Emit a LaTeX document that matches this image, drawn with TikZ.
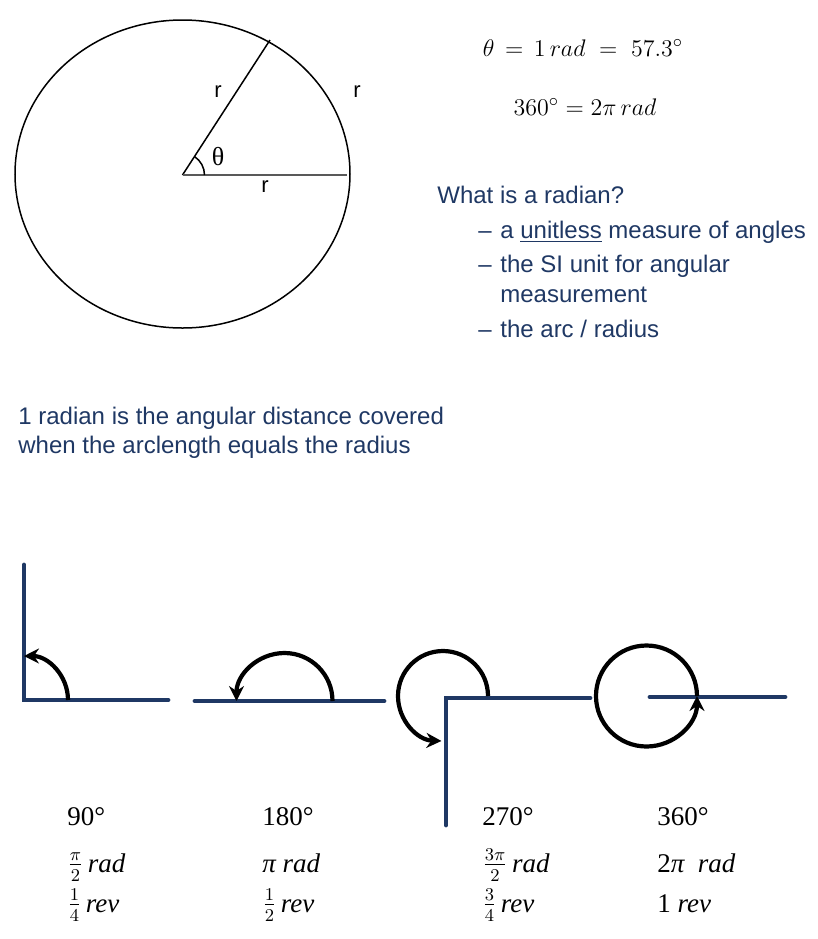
\documentclass[tikz,border=0pt]{standalone}
\usepackage{amsmath}
\usepackage{fontspec}
\setmainfont{Liberation Sans}
\newfontfamily\timesfont{Liberation Serif}
\newfontfamily\timesit{Liberation Serif Italic}
\usepackage{tikz}
\usetikzlibrary{arrows.meta,positioning}
\definecolor{navyline}{RGB}{31,56,100}
\definecolor{navytext}{RGB}{31,56,100}
\newcommand{\ital}[1]{{\timesit #1}}

\begin{document}
\begin{tikzpicture}[x=0.5pt, y=0.5pt,
    rimline/.style={line width=0.75pt},
    armline/.style={navyline, line width=2.4pt, line cap=round},
    turnarc/.style={line width=2.1pt, -{Stealth[length=7.5pt, width=7.5pt, inset=2.5pt]}},
    rlabel/.style={font=\fontsize{11}{13}\selectfont, inner sep=0},
    eqtext/.style={font=\fontsize{12.6}{15}\selectfont, inner sep=0},
    bodytext/.style={font=\fontsize{12}{14}\selectfont, text=navytext, anchor=base west, inner sep=0},
    amount/.style={font=\timesfont\fontsize{13.5}{16}\selectfont, anchor=base west, inner sep=0},
]
    \useasboundingbox (0,0) rectangle (818,-939);

    % circle with one radian marked
    \coordinate (ctr) at (182.5,-175);
    \draw[rimline] (182.5,-174) ellipse [x radius=167.5, y radius=154];
    \coordinate (rimtop) at (270,-40);
    \coordinate (rimright) at (347,-175);
    \draw[rimline] (ctr) -- (rimtop);
    \draw[gray!70!black, line width=1pt] (ctr) -- (rimright);
    \draw[rimline] ([shift={(0:22)}]ctr) arc[start angle=0, end angle=57, radius=22];
    \node[rlabel, font=\timesfont\fontsize{13}{15}\selectfont] (theta) at (218,-157) {θ};
    \node[rlabel] (rslant) at (218,-92) {r};
    \node[rlabel] (rflat) at (265,-187) {r};
    \node[rlabel] (rarc) at (357,-92) {r};

    % equations
    \node[eqtext] (eqone) at (583,-48) {$\theta\, =\, 1\,rad\ =\ 57.3^\circ$};
    \node[eqtext] (eqtwo) at (585,-107) {$360^\circ = 2\pi\,rad$};

    % what is a radian
    \node[bodytext] (what) at (437,-203) {What is a radian?};
    \node[bodytext] (dashone) at (478,-238) {–};
    \node[bodytext] (itemone) at (500,-238) {a \underline{unitless} measure of angles};
    \node[bodytext] (dashtwo) at (478,-272) {–};
    \node[bodytext] (itemtwo) at (500,-272) {the SI unit for angular};
    \node[bodytext] (itemtwob) at (500,-302) {measurement};
    \node[bodytext] (dashthree) at (478,-337) {–};
    \node[bodytext] (itemthree) at (500,-337) {the arc / radius};

    \node[bodytext] (defone) at (18,-424) {1 radian is the angular distance covered};
    \node[bodytext] (deftwo) at (18,-453) {when the arclength equals the radius};

    % quarter turn
    \coordinate (cq) at (24,-700);
    \draw[armline] (24,-565) -- (cq) -- (168,-700);
    \draw[turnarc] ([shift={(0:44)}]cq) arc[start angle=0, end angle=90, radius=44];

    % half turn
    \coordinate (ch) at (284.5,-701);
    \draw[armline] (195,-701) -- (384,-701);
    \draw[turnarc] ([shift={(0:48)}]ch) arc[start angle=0, end angle=180, radius=48];

    % three quarter turn
    \coordinate (ct) at (446,-698);
    \coordinate (ctarc) at (443,-696);
    \draw[armline] (446,-825) -- (ct) -- (590,-698);
    \draw[turnarc] ([shift={(0:45)}]ctarc) arc[start angle=0, end angle=268, radius=45];

    % full turn
    \coordinate (cf) at (646.5,-696);
    \draw[armline] (650,-697) -- (785,-697);
    \draw[turnarc] ([shift={(0:50.5)}]cf) arc[start angle=0, end angle=360, radius=50.5];

    % amounts
    \foreach \x/\deg/\rad/\rev [count=\i] in {
        67/90°/{$\tfrac{\pi}{2}$\,\ital{rad}}/{$\tfrac{1}{4}$\,\ital{rev}},
        262/180°/{\ital{π rad}}/{$\tfrac{1}{2}$\,\ital{rev}},
        482/270°/{$\tfrac{3\pi}{2}$\,\ital{rad}}/{$\tfrac{3}{4}$\,\ital{rev}},
        657/360°/{2\ital{π\ \ rad}}/{1 \ital{rev}}} {
        \node[amount] (deg\i) at (\x,-825) {\deg};
        \node[amount] (rad\i) at (\x,-872) {\rad};
        \node[amount] (rev\i) at (\x,-912) {\rev};
    }
\end{tikzpicture}
\end{document}
